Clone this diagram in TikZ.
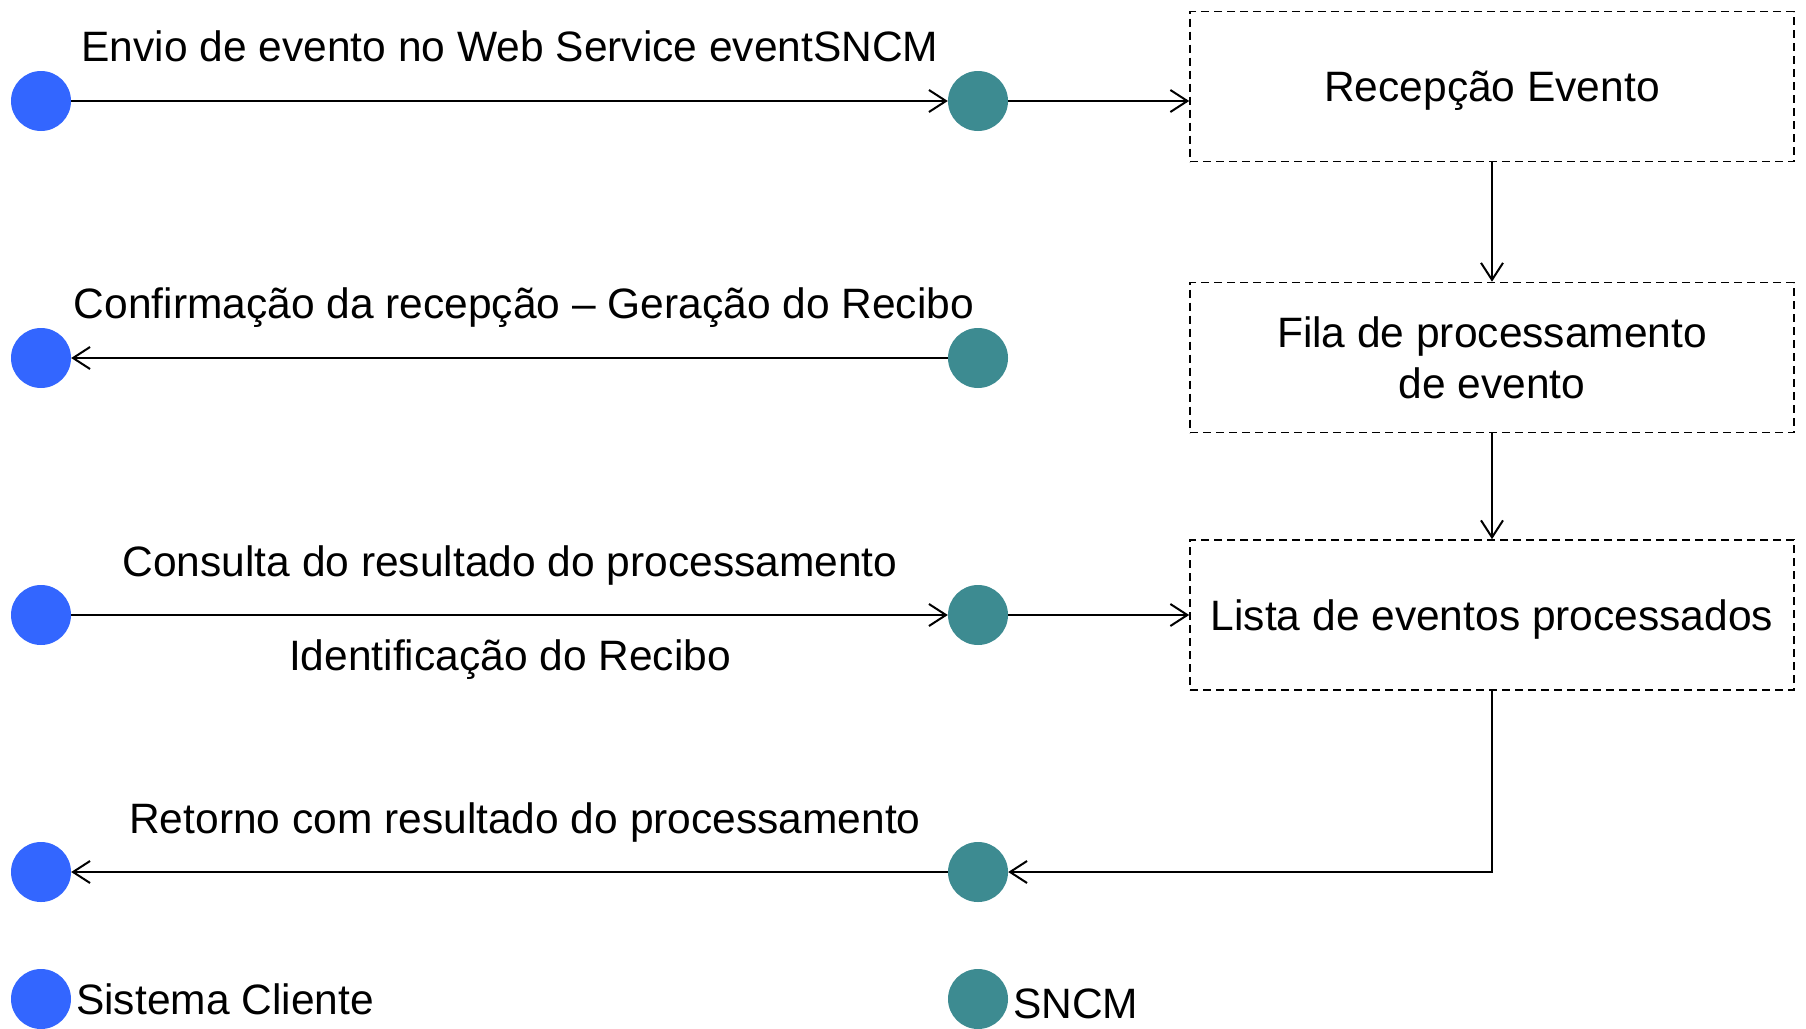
\documentclass[tikz,border=0pt]{standalone}
\usepackage{fontspec}
\setmainfont{Liberation Sans}
\usetikzlibrary{arrows.meta}
\definecolor{cliblue}{HTML}{3366FF}
\definecolor{sncmteal}{HTML}{3D8B91}
\begin{document}
\begin{tikzpicture}[x=1pt,y=-1pt,
  font=\fontsize{42.5}{51}\selectfont,
  cli/.style={circle,fill=cliblue,minimum size=60pt,inner sep=0pt},
  sncm/.style={circle,fill=sncmteal,minimum size=60pt,inner sep=0pt},
  procbox/.style={draw,line width=1.6pt,dash pattern=on 8pt off 5pt,minimum width=604pt,minimum height=150pt,align=center,inner sep=0pt},
  oneline/.style={text height=30.5pt,text depth=0pt},
  conn/.style={line width=2pt,-{Straight Barb[length=17pt,width=22pt,line width=2pt]}},
  lbl/.style={anchor=base,inner sep=0pt}]
\useasboundingbox (0,0) rectangle (1806,1028);
% circles
\node[cli] (c1) at (41,101) {};
\node[sncm] (s1) at (978,101) {};
\node[cli] (c2) at (41,358) {};
\node[sncm] (s2) at (978,358) {};
\node[cli] (c3) at (41,615) {};
\node[sncm] (s3) at (978,615) {};
\node[cli] (c4) at (41,872) {};
\node[sncm] (s4) at (978,872) {};
% boxes
\node[procbox,oneline] (b1) at (1492,86.5) {Recepção Evento};
\node[procbox] (b2) at (1492,357.5) {Fila de processamento\\de evento};
\node[procbox,oneline] (b3) at (1492,615) {Lista de eventos processados};
% labels
\node[lbl] (l1) at (510,61) {Envio de evento no Web Service eventSNCM};
\node[lbl] (l2) at (524,318) {Confirmação da recepção – Geração do Recibo};
\node[lbl] (l3) at (510,576) {Consulta do resultado do processamento};
\node[lbl] (l3b) at (510,670) {Identificação do Recibo};
\node[lbl] (l4) at (525,833) {Retorno com resultado do processamento};
% legend
\node[cli] (lc) at (41,999) {};
\node[lbl,anchor=base west] (lct) at (76,1014) {Sistema Cliente};
\node[sncm] (ls) at (978,999) {};
\node[lbl,anchor=base west] (lst) at (1013,1018) {SNCM};
% connectors
\draw[conn] (c1) -- (s1);
\draw[conn] (s1) -- (s1 -| b1.west);
\draw[conn] (b1) -- (b2);
\draw[conn] (b2) -- (b3);
\draw[conn] (s2) -- (c2);
\draw[conn] (c3) -- (s3);
\draw[conn] (s3) -- (s3 -| b3.west);
\draw[conn] (b3.south) |- (s4);
\draw[conn] (s4) -- (c4);
\end{tikzpicture}
\end{document}
